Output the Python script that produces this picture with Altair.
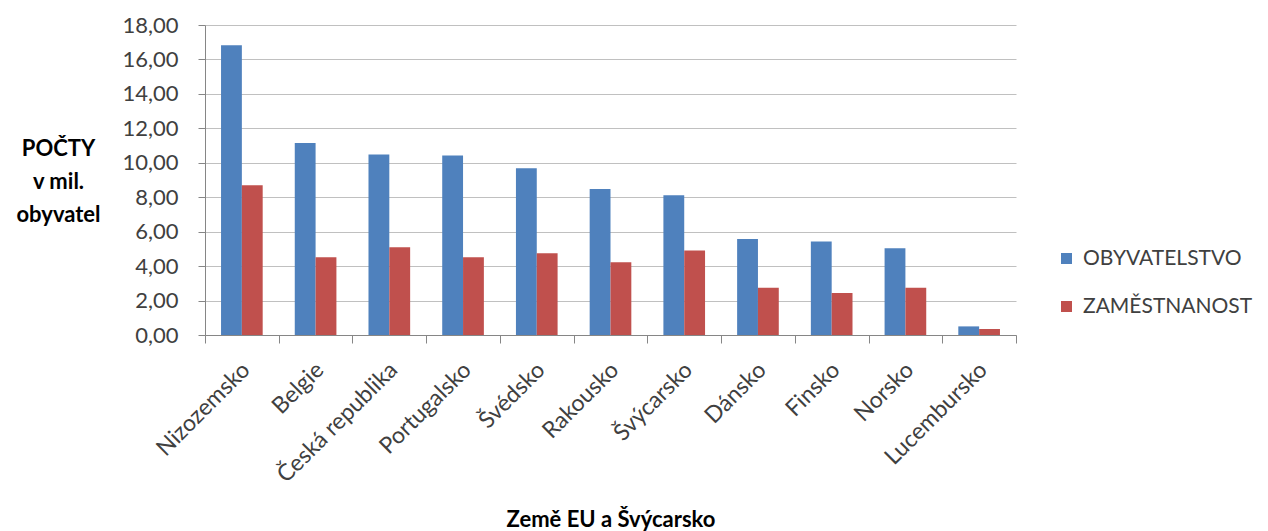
import altair as alt
import pandas as pd

countries = ["Nizozemsko", "Belgie", "Česká republika", "Portugalsko", "Švédsko",
             "Rakousko", "Švýcarsko", "Dánsko", "Finsko", "Norsko", "Lucembursko"]
obyvatelstvo = [16.82, 11.15, 10.48, 10.42, 9.68, 8.48, 8.11, 5.57, 5.43, 5.04, 0.50]
zamestnanost = [8.69, 4.52, 5.10, 4.52, 4.75, 4.23, 4.91, 2.74, 2.44, 2.74, 0.35]
series = ["OBYVATELSTVO", "ZAMĚSTNANOST"]
colors = ["#4F81BD", "#C0504D"]
y_ticks = [0, 2, 4, 6, 8, 10, 12, 14, 16, 18]

rows = []
for i, c in enumerate(countries):
    rows.append({"zeme": c, "serie": series[0], "hodnota": obyvatelstvo[i]})
    rows.append({"zeme": c, "serie": series[1], "hodnota": zamestnanost[i]})
df = pd.DataFrame(rows)

FONT = "Lato"
TXT = "#404040"
AX = "#868686"

chart = alt.Chart(df).mark_bar().encode(
    x=alt.X("zeme:N", sort=countries,
            scale=alt.Scale(paddingInner=0, paddingOuter=0),
            axis=alt.Axis(title="Země EU a Švýcarsko", labelAngle=-45,
                          labelAlign="right", labelBaseline="middle",
                          labelPadding=23, labelOffset=4, labelFontSize=23,
                          labelColor=TXT, labelFont=FONT, labelLimit=0,
                          tickBand="extent", tickSize=8,
                          tickColor=AX, domainColor=AX,
                          titleFont=FONT, titleFontSize=22, titleFontWeight="bold",
                          titleColor="#000000", titleY=191,
                          titleBaseline="alphabetic",
                          grid=False)),
    xOffset=alt.XOffset("serie:N", sort=series,
                        scale=alt.Scale(paddingInner=0, paddingOuter=0.77)),
    y=alt.Y("hodnota:Q", scale=alt.Scale(domain=[0, 18], nice=False),
            axis=alt.Axis(values=y_ticks,
                          labelExpr="replace(format(datum.value, '.2f'), '.', ',')",
                          title=["POČTY", "v mil.", "obyvatel"], titleAngle=0,
                          titleX=-147, titleY=123, titleAlign="center",
                          titleBaseline="middle", titleLineHeight=33,
                          titleFont=FONT, titleFontSize=22, titleFontWeight="bold",
                          titleColor="#000000",
                          labelFontSize=22, labelColor=TXT, labelFont=FONT,
                          labelPadding=20, tickSize=7, tickColor=AX,
                          domainColor=AX, gridColor="#c0c0c0")),
    color=alt.Color("serie:N", sort=series,
                    scale=alt.Scale(domain=series, range=colors),
                    legend=alt.Legend(title=None, orient="none", legendX=851,
                                      legendY=223, symbolType="square",
                                      symbolSize=121, symbolStrokeWidth=0,
                                      labelFontSize=21, labelFont=FONT,
                                      labelColor=TXT, rowPadding=26,
                                      labelOffset=6, labelLimit=0)),
).properties(
    width=811, height=310,
    autosize=alt.AutoSizeParams(type="none"),
    padding={"left": 197, "top": 17, "right": 244, "bottom": 196},
).configure_view(stroke=None)

chart.save("out.html", embed_options={"renderer": "svg", "actions": False})
